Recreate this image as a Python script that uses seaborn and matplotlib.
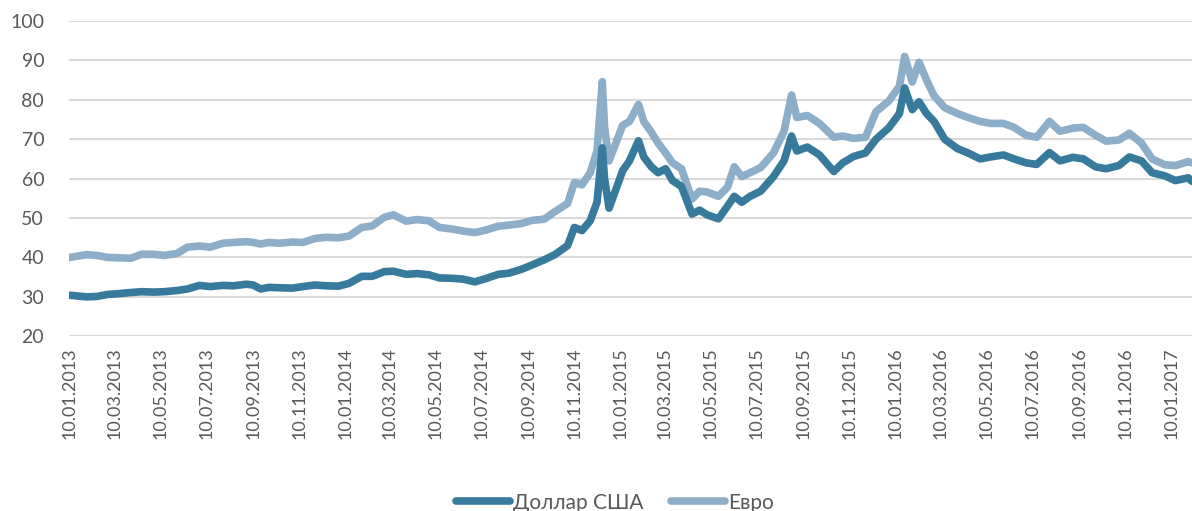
import matplotlib
matplotlib.use("Agg")
import matplotlib.pyplot as plt
import seaborn as sns
import pandas as pd

# ==================================================
# ДАННЫЕ — курсы доллара и евро (руб.)
# ==================================================
dates = [
    "2013-01-10", "2013-02-01", "2013-02-15", "2013-03-01", "2013-03-15",
    "2013-04-01", "2013-04-15", "2013-05-01", "2013-05-15", "2013-06-01",
    "2013-06-15", "2013-07-01", "2013-07-15", "2013-08-01", "2013-08-15",
    "2013-09-01", "2013-09-10", "2013-09-20", "2013-10-01", "2013-10-15",
    "2013-11-01", "2013-11-15", "2013-12-01", "2013-12-15", "2014-01-01",
    "2014-01-15", "2014-02-01", "2014-02-15", "2014-03-03", "2014-03-15",
    "2014-04-01", "2014-04-15", "2014-05-01", "2014-05-15", "2014-06-01",
    "2014-06-15", "2014-07-01", "2014-07-15", "2014-08-01", "2014-08-15",
    "2014-09-01", "2014-09-15", "2014-10-01", "2014-10-15", "2014-11-01",
    "2014-11-10", "2014-11-20", "2014-12-01", "2014-12-10", "2014-12-17",
    "2014-12-20", "2014-12-26", "2015-01-13", "2015-01-22", "2015-02-03",
    "2015-02-10", "2015-02-20", "2015-03-01", "2015-03-11", "2015-03-20",
    "2015-04-01", "2015-04-15", "2015-04-25", "2015-05-05", "2015-05-20",
    "2015-06-01", "2015-06-10", "2015-06-20", "2015-07-01", "2015-07-15",
    "2015-08-01", "2015-08-15", "2015-08-25", "2015-09-01", "2015-09-15",
    "2015-10-01", "2015-10-20", "2015-11-01", "2015-11-15", "2015-12-01",
    "2015-12-15", "2016-01-01", "2016-01-15", "2016-01-22", "2016-02-01",
    "2016-02-10", "2016-02-20", "2016-03-01", "2016-03-15", "2016-04-01",
    "2016-04-15", "2016-05-01", "2016-05-15", "2016-06-01", "2016-06-15",
    "2016-07-01", "2016-07-15", "2016-08-01", "2016-08-15", "2016-09-01",
    "2016-09-15", "2016-10-01", "2016-10-15", "2016-11-01", "2016-11-15",
    "2016-12-01", "2016-12-15", "2017-01-01", "2017-01-15", "2017-02-01",
    "2017-02-06",
]

usd = [
    30.4, 30.0, 30.1, 30.6, 30.8, 31.1, 31.3, 31.2, 31.3, 31.6,
    32.0, 32.9, 32.6, 32.9, 32.8, 33.2, 33.0, 32.0, 32.4, 32.3,
    32.2, 32.6, 33.0, 32.8, 32.7, 33.4, 35.2, 35.2, 36.4, 36.5,
    35.7, 35.9, 35.6, 34.8, 34.7, 34.5, 33.8, 34.6, 35.7, 36.0,
    37.0, 38.1, 39.4, 40.7, 43.0, 47.6, 46.8, 49.3, 54.0, 67.8,
    60.0, 52.5, 62.0, 64.5, 69.6, 65.5, 63.0, 61.5, 62.5, 59.5,
    58.0, 51.0, 52.0, 50.8, 49.8, 53.0, 55.5, 54.0, 55.5, 56.8,
    60.5, 64.5, 70.8, 67.0, 68.0, 66.0, 61.8, 64.0, 65.6, 66.5,
    70.0, 72.9, 76.5, 83.0, 77.5, 79.5, 76.5, 74.5, 70.0, 67.6,
    66.5, 65.0, 65.5, 66.0, 65.0, 64.0, 63.6, 66.6, 64.5, 65.4,
    65.0, 63.0, 62.5, 63.3, 65.5, 64.5, 61.5, 60.7, 59.5, 60.2,
    59.3,
]

eur = [
    40.0, 40.7, 40.5, 40.0, 39.9, 39.8, 40.8, 40.8, 40.5, 41.0,
    42.6, 42.9, 42.6, 43.6, 43.8, 44.0, 43.8, 43.4, 43.8, 43.6,
    43.9, 43.8, 44.8, 45.1, 45.0, 45.4, 47.6, 48.0, 50.2, 50.8,
    49.2, 49.6, 49.3, 47.6, 47.2, 46.7, 46.3, 46.9, 47.9, 48.2,
    48.6, 49.4, 49.7, 51.6, 53.7, 59.0, 58.4, 61.5, 67.0, 84.6,
    73.0, 64.5, 73.5, 74.5, 78.8, 74.5, 71.8, 69.0, 66.5, 64.0,
    62.5, 54.8, 56.8, 56.6, 55.5, 57.8, 63.0, 60.5, 61.5, 62.8,
    66.5, 72.0, 81.2, 75.5, 76.0, 74.0, 70.5, 70.8, 70.2, 70.5,
    77.0, 79.7, 83.4, 91.0, 84.5, 89.5, 85.0, 81.0, 78.0, 76.5,
    75.5, 74.5, 74.0, 74.0, 73.0, 71.0, 70.5, 74.5, 72.0, 72.8,
    73.0, 71.0, 69.5, 69.8, 71.5, 69.0, 65.0, 63.5, 63.3, 64.3,
    64.0,
]

tick_labels = [
    "10.01.2013", "10.03.2013", "10.05.2013", "10.07.2013", "10.09.2013",
    "10.11.2013", "10.01.2014", "10.03.2014", "10.05.2014", "10.07.2014",
    "10.09.2014", "10.11.2014", "10.01.2015", "10.03.2015", "10.05.2015",
    "10.07.2015", "10.09.2015", "10.11.2015", "10.01.2016", "10.03.2016",
    "10.05.2016", "10.07.2016", "10.09.2016", "10.11.2016", "10.01.2017",
]

series_names = ["Доллар США", "Евро"]
colors = ["#377A9C", "#8DAEC8"]

# ==================================================
# ГРАФИК
# ==================================================
sns.set_style("white")
plt.rcParams["font.family"] = ["Lato", "DejaVu Sans"]

df = pd.DataFrame({"date": pd.to_datetime(dates), series_names[0]: usd, series_names[1]: eur})
long_df = df.melt(id_vars="date", var_name="series", value_name="rate")

fig = plt.figure(figsize=(11.92, 5.11), dpi=100)
ax = fig.add_axes([0.058, 0.342, 0.942, 0.617])

# евро рисуется первым, доллар поверх него
sns.lineplot(data=long_df, x="date", y="rate", hue="series",
             hue_order=series_names[::-1],
             palette=dict(zip(series_names, colors)), linewidth=5.5,
             ax=ax, legend=False)

ax.set_ylim(20, 100)
ax.set_yticks(range(20, 101, 10))
ax.set_xlim(pd.Timestamp("2013-01-09"), pd.Timestamp("2017-02-06"))
tick_pos = pd.to_datetime(tick_labels, format="%d.%m.%Y")
ax.set_xticks(tick_pos)
ax.set_xticklabels(tick_labels, rotation=90)

ax.grid(axis="y", color="#D9D9D9", linewidth=1.5)
ax.set_axisbelow(True)
for s in ax.spines.values():
    s.set_visible(False)
ax.tick_params(axis="both", length=0, labelsize=13, colors="#595959")
ax.tick_params(axis="y", labelsize=14, pad=18)
ax.tick_params(axis="x", pad=8)
ax.set_xlabel("")
ax.set_ylabel("")

handles = [plt.Line2D([], [], color=c, linewidth=5.5, solid_capstyle="round") for c in colors]
leg = fig.legend(handles, series_names, loc="lower center", bbox_to_anchor=(0.516, -0.04),
                 ncol=2, frameon=False, fontsize=15, handlelength=2.6,
                 columnspacing=1.3, handletextpad=0.15)
for t in leg.get_texts():
    t.set_color("#595959")

fig.savefig("out.png", dpi=100)
